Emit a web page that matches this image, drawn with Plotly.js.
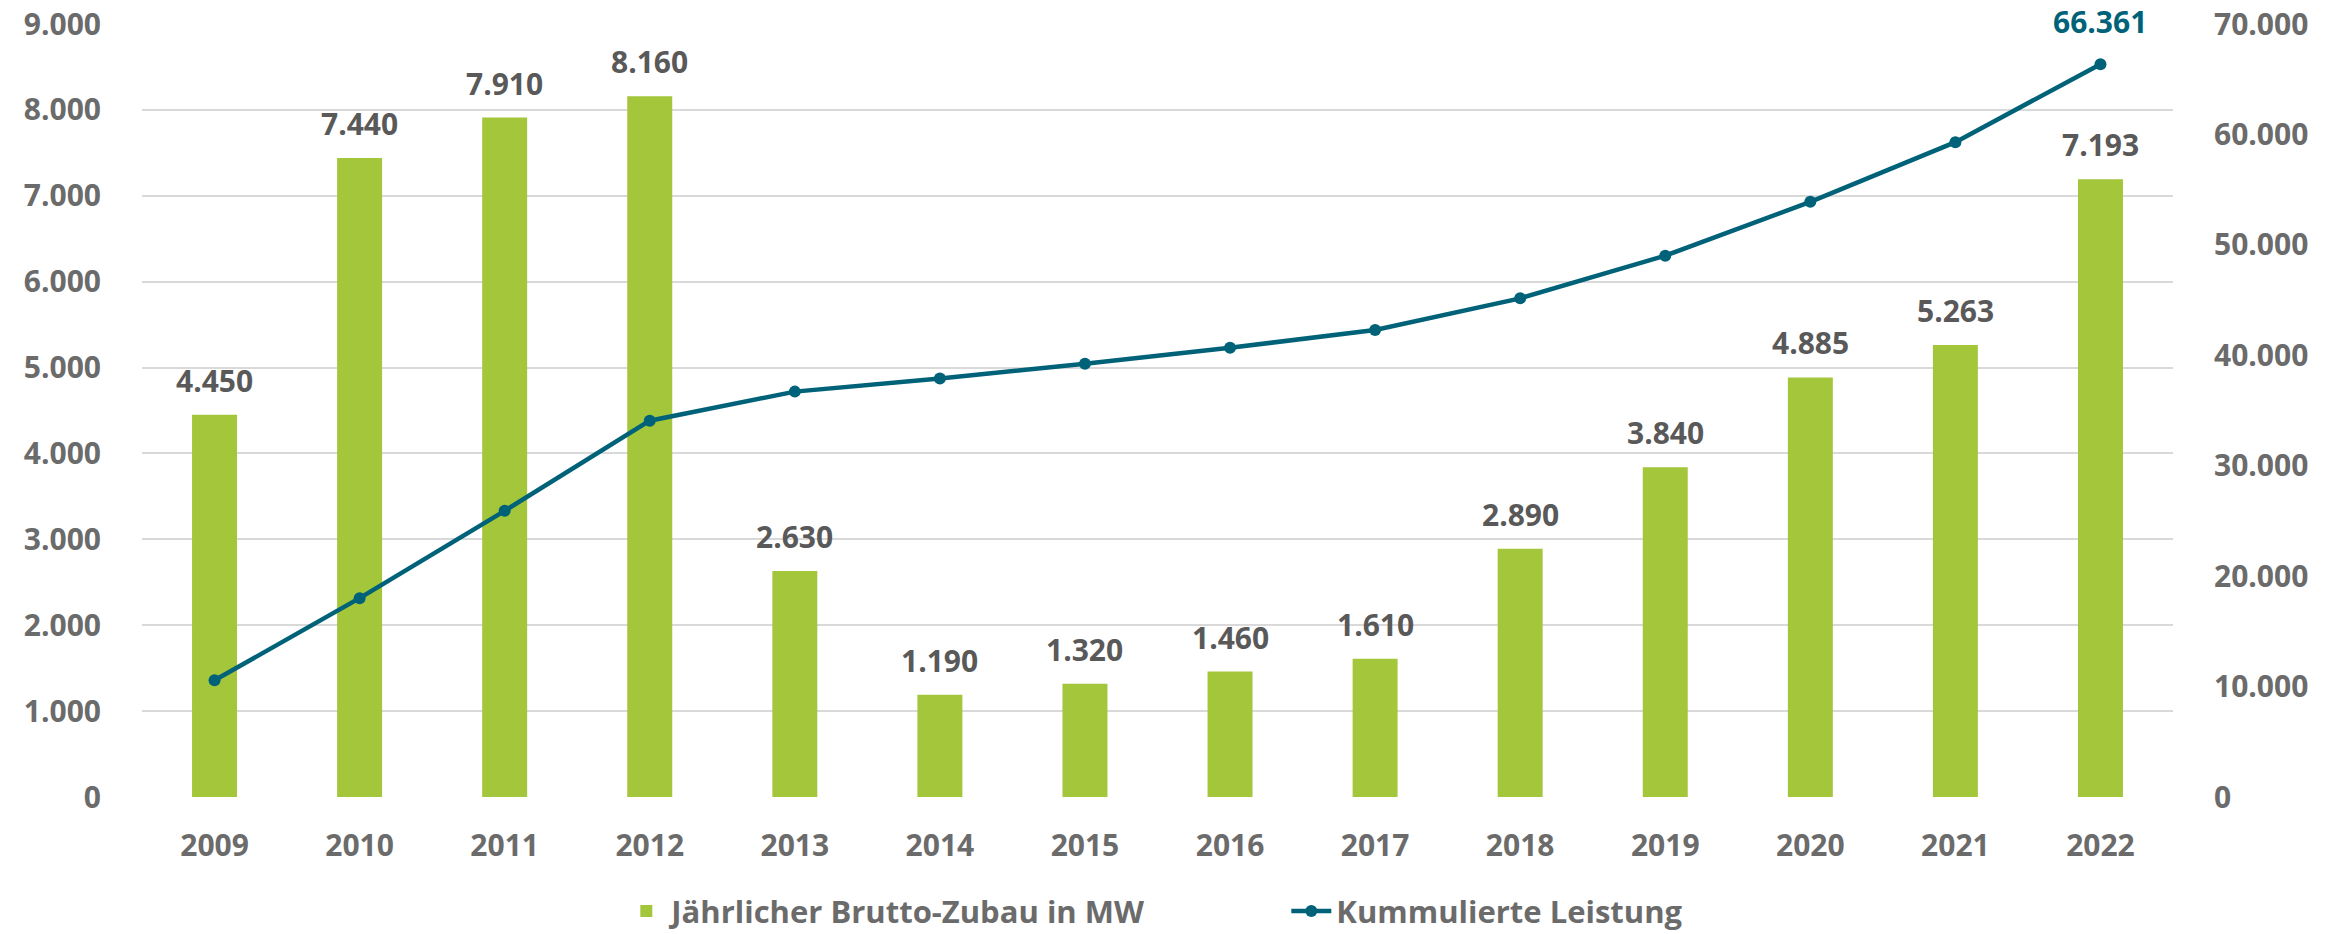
<!DOCTYPE html>
<html>
<head>
<meta charset="utf-8">
<script src="https://cdn.plot.ly/plotly-3.0.1.min.js"></script>
<style>html,body{margin:0;padding:0;background:#fff;}#chart{width:2351px;height:934px;}</style>
</head>
<body>
<div id="chart"></div>
<script>
const years = ["2009","2010","2011","2012","2013","2014","2015","2016","2017","2018","2019","2020","2021","2022"];
const zubau = [4450, 7440, 7910, 8160, 2630, 1190, 1320, 1460, 1610, 2890, 3840, 4885, 5263, 7193];
const kumuliert = [10566, 18006, 25916, 34077, 36710, 37900, 39224, 40679, 42293, 45158, 49016, 53900, 59300, 66361];
const leftTicks = [0,1000,2000,3000,4000,5000,6000,7000,8000,9000];
const rightTicks = [0,10000,20000,30000,40000,50000,60000,70000];

const fmt = v => String(v).replace(/\B(?=(\d{3})+(?!\d))/g, ".");

const green = "#A3C63B";
const teal = "#006278";
const font = "Open Sans, Arial, sans-serif";

const traces = [
  {type:"bar", x:years, y:zubau, name:"Jährlicher Brutto-Zubau in MW",
   marker:{color:green}, yaxis:"y", hoverinfo:"none"},
  {type:"scatter", mode:"lines+markers", x:years, y:kumuliert, name:"Kummulierte Leistung",
   line:{color:teal, width:4.5}, marker:{color:teal, size:12}, yaxis:"y2", hoverinfo:"none"}
];

// category axis: annotation x given as category index
const annotations = years.map((yr,i)=>({
  x:i, y:zubau[i], xref:"x", yref:"y", text:"<b>"+fmt(zubau[i])+"</b>",
  showarrow:false, yanchor:"bottom", yshift:12,
  font:{family:font, size:30, color:"#595959"}
}));
const last = years.length-1;
annotations.push({
  x:last, y:kumuliert[last], xref:"x", yref:"y2", text:"<b>"+fmt(kumuliert[last])+"</b>",
  showarrow:false, yanchor:"bottom", yshift:20,
  font:{family:font, size:30, color:teal}
});

const tickFont = {family:font, size:30, color:"#6b6b6b", weight:700};

const layout = {
  width:2351, height:934,
  margin:{l:142, r:178, t:24, b:137, autoexpand:false},
  paper_bgcolor:"#fff", plot_bgcolor:"#fff",
  bargap:0.69,
  showlegend:true,
  legend:{orientation:"h", x:0.236, xanchor:"left", y:-0.148, yanchor:"middle",
    font:{family:font, size:31, color:"#6b6b6b", weight:700}, itemwidth:40,
    entrywidth:610, entrywidthmode:"pixels", traceorder:"normal"},
  xaxis:{type:"category", range:[-0.5, years.length-0.5], tickfont:tickFont, ticks:"outside", ticklen:22, tickcolor:"rgba(0,0,0,0)",
    showgrid:false, zeroline:false, showline:false, automargin:false},
  yaxis:{range:[0,9000], tickvals:leftTicks, ticktext:leftTicks.map(fmt), tickfont:tickFont,
    ticks:"outside", ticklen:34, tickcolor:"rgba(0,0,0,0)", automargin:false,
    showgrid:true, gridcolor:"#D9D9D9", gridwidth:2, zeroline:false, showline:false},
  yaxis2:{range:[0,70000], overlaying:"y", side:"right", tickvals:rightTicks, ticktext:rightTicks.map(fmt),
    tickfont:tickFont, ticks:"outside", ticklen:34, tickcolor:"rgba(0,0,0,0)", automargin:false,
    showgrid:false, zeroline:false, showline:false},
  annotations:annotations,
  font:{family:font}
};

Plotly.newPlot("chart", traces, layout, {displayModeBar:false, staticPlot:true});
</script>
</body>
</html>
